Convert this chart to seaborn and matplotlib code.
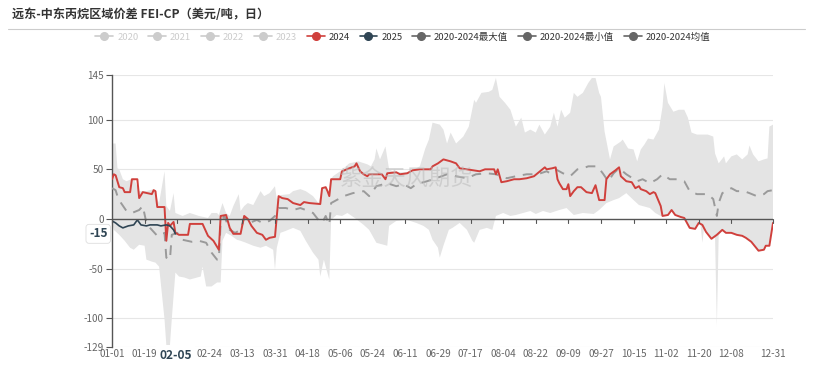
import numpy as np
import pandas as pd
import matplotlib
matplotlib.use("Agg")
import matplotlib.pyplot as plt
import seaborn as sns
from matplotlib.lines import Line2D

# ---- category axis (2024 calendar, MM-DD) ----
dates = pd.date_range("2024-01-01", "2024-12-31", freq="D")
categories = dates.strftime("%m-%d").tolist()
# 02-06 is hidden under the pointer label in the reference
xtick_labels = ["01-01", "01-19", "02-24", "03-13", "03-31", "04-18",
                "05-06", "05-24", "06-11", "06-29", "07-17", "08-04", "08-22",
                "09-09", "09-27", "10-15", "11-02", "11-20", "12-08", "12-31"]
ytick_values = [145, 100, 50, 0, -50, -100, -129]

# ---- 2024 (day of year, value) ----
day_2024 = [0, 1, 2, 4, 6, 7, 10, 11, 14, 15, 17, 22, 23, 24, 25, 29, 30, 31, 32, 34,
            35, 37, 42, 43, 50, 51, 53, 56, 59, 60, 63, 65, 67, 71, 72, 73, 75, 77, 80, 83,
            85, 87, 90, 92, 94, 97, 100, 104, 106, 109, 115, 116, 118, 119, 120, 121, 126, 127, 131, 134,
            135, 137, 139, 141, 142, 149, 151, 152, 157, 159, 163, 166, 170, 176, 177, 180, 183, 187, 190, 192,
            196, 203, 206, 211, 212, 213, 215, 218, 222, 225, 229, 233, 235, 239, 240, 243, 245, 246, 247, 249,
            251, 252, 253, 255, 257, 259, 262, 265, 267, 269, 272, 273, 275, 278, 280, 281, 284, 287, 289, 291,
            292, 295, 297, 299, 300, 303, 304, 307, 309, 311, 314, 316, 319, 322, 324, 326, 328, 331, 334, 337,
            339, 342, 345, 348, 350, 353, 357, 360, 361, 363, 365]
val_2024 = [40, 45, 44, 32, 31, 27, 27, 40, 40, 21, 27, 25, 29, 28, 12, 12, -22, -4, -7, -3,
            -14, -16, -16, -5, -5, -9, -17, -22, -31, 3, 4, -9, -15, -15, -6, 3, 0, -7, -14, -16,
            -21, -19, -18, 23, 21, 20, 16, 14, 17, 16, 15, 31, 32, 28, 23, 40, 40, 48, 51, 53,
            56, 48, 45, 43, 45, 45, 40, 46, 47, 45, 46, 49, 50, 50, 53, 56, 60, 58, 56, 51,
            50, 48, 50, 50, 45, 50, 37, 38, 40, 40, 41, 43, 46, 52, 50, 51, 52, 40, 36, 30,
            30, 35, 23, 28, 32, 32, 27, 26, 34, 19, 19, 40, 45, 49, 52, 43, 38, 37, 31, 33,
            30, 28, 25, 27, 26, 13, 3, 4, 9, 4, 2, 1, -9, -10, -4, -6, -13, -20, -16, -11,
            -14, -14, -16, -17, -19, -23, -32, -31, -27, -27, -4]

# ---- 2025 ----
day_2025 = [0, 2, 4, 6, 9, 12, 14, 16, 19, 21, 25, 27, 30, 32, 34, 35]
val_2025 = [-2, -4, -7, -9, -7, -6, -1, -6, -7, -6, -6, -7, -6, -7, -11, -15]

# ---- 2020-2024 mean ----
day_mean = [0, 2, 3, 5, 8, 11, 15, 17, 19, 21, 25, 27, 29, 30, 32, 33, 36, 39, 44, 48,
            52, 55, 58, 59, 60, 62, 65, 68, 71, 73, 76, 80, 83, 87, 90, 92, 96, 100, 104, 107,
            111, 114, 116, 118, 120, 121, 124, 128, 133, 139, 142, 146, 152, 157, 161, 165, 168, 174, 179, 185,
            190, 196, 201, 207, 212, 218, 223, 229, 235, 240, 242, 245, 249, 253, 257, 260, 263, 268, 271, 274,
            277, 280, 284, 290, 293, 297, 301, 304, 308, 312, 316, 319, 323, 329, 332, 334, 335, 337, 339, 342,
            345, 349, 352, 356, 360, 362, 365]
val_mean = [31, 29, 23, 16, 8, 6, 9, 13, -4, -9, -17, -16, -14, -39, -41, -16, -14, -21, -23, -22,
            -24, -34, -41, -41, -4, 3, -11, -14, -11, 1, -4, -1, -4, -2, 3, 11, 11, 9, 11, 9,
            6, -1, -4, 3, -6, 16, 19, 23, 26, 28, 23, 33, 36, 33, 35, 31, 35, 38, 41, 45,
            43, 41, 45, 46, 45, 41, 43, 45, 45, 48, 46, 50, 46, 43, 50, 51, 53, 53, 46, 38,
            46, 51, 45, 38, 40, 36, 40, 45, 40, 40, 38, 28, 25, 25, 20, 3, 16, 26, 28, 31,
            28, 28, 26, 23, 25, 28, 29]

# ---- 2020-2024 max ----
day_max = [0, 2, 3, 4, 6, 8, 12, 15, 19, 23, 25, 26, 29, 30, 32, 34, 35, 39, 43, 48,
           53, 55, 58, 59, 61, 63, 65, 67, 70, 71, 73, 75, 78, 80, 82, 84, 87, 90, 91, 93,
           98, 100, 104, 107, 111, 114, 116, 118, 119, 120, 121, 122, 126, 131, 136, 141, 143, 145, 146, 148,
           151, 153, 156, 163, 166, 170, 173, 175, 177, 181, 183, 185, 187, 190, 194, 197, 200, 201, 204, 208,
           210, 212, 214, 217, 220, 223, 226, 228, 231, 234, 236, 239, 242, 244, 246, 248, 250, 253, 255, 257,
           260, 263, 265, 267, 269, 270, 272, 275, 277, 281, 282, 285, 288, 290, 292, 294, 296, 299, 302, 304,
           305, 306, 307, 310, 313, 316, 318, 320, 323, 329, 332, 333, 335, 338, 339, 342, 345, 348, 351, 352,
           354, 357, 360, 362, 363, 365]
val_max = [76, 76, 51, 50, 40, 38, 41, 28, 28, 30, 20, 16, 48, 13, 8, 26, 6, 3, 6, 3,
           1, 6, 6, 4, 16, 6, 3, 13, 25, 8, 13, 16, 14, 21, 28, 23, 26, 33, 20, 24,
           25, 28, 30, 28, 23, 16, 31, 32, 28, 23, 40, 43, 48, 56, 58, 55, 53, 60, 71, 60,
           73, 50, 47, 47, 49, 53, 71, 80, 97, 95, 90, 76, 87, 76, 83, 93, 120, 117, 127, 128,
           130, 142, 123, 117, 110, 93, 102, 87, 90, 87, 95, 85, 93, 107, 93, 110, 102, 107, 127, 123,
           127, 137, 142, 142, 127, 123, 88, 60, 73, 78, 80, 71, 70, 58, 70, 75, 81, 80, 90, 113,
           137, 127, 117, 108, 110, 110, 102, 87, 85, 85, 83, 66, 56, 63, 56, 63, 65, 60, 65, 74,
           65, 58, 60, 61, 93, 95]

# ---- 2020-2024 min ----
day_min = [0, 1, 4, 7, 10, 12, 15, 18, 19, 22, 24, 26, 29, 30, 32, 33, 35, 37, 40, 43,
           47, 49, 50, 52, 55, 58, 60, 61, 63, 66, 69, 71, 74, 78, 82, 85, 89, 90, 91, 93,
           96, 100, 104, 107, 111, 114, 115, 117, 118, 120, 121, 124, 127, 130, 134, 139, 142, 146, 150, 152,
           153, 157, 163, 168, 172, 175, 177, 180, 181, 183, 186, 188, 192, 196, 199, 200, 203, 207, 210, 212,
           216, 220, 223, 227, 231, 234, 238, 242, 247, 251, 255, 260, 266, 269, 273, 277, 280, 284, 288, 291,
           293, 297, 300, 303, 304, 307, 309, 311, 314, 316, 319, 322, 324, 325, 326, 327, 328, 331, 333, 334,
           335, 337, 339, 342, 345, 348, 350, 353, 357, 360, 361, 363, 365]
val_min = [-4, -11, -16, -22, -29, -31, -26, -27, -41, -43, -44, -48, -101, -127, -127, -101, -54, -58, -59, -61,
           -59, -58, -48, -68, -68, -64, -64, -22, -14, -17, -21, -22, -24, -27, -29, -27, -31, -51, -29, -14,
           -12, -9, -12, -22, -34, -41, -58, -41, -48, -61, -1, 4, 3, 6, 1, -6, -11, -24, -26, -27,
           -7, -2, -1, -4, -7, -11, -21, -29, -39, -27, -11, -9, -4, -11, -22, -24, -11, -9, -11, 3,
           6, 3, 4, 6, 8, 5, 8, 6, 9, 11, 4, 6, 5, 9, 16, 19, 21, 26, 19, 14,
           13, 11, 6, 3, 3, 4, 9, 4, 2, 1, -9, -10, -4, -6, -24, -8, -13, -20, -18, -108,
           -17, -11, -14, -14, -16, -17, -19, -23, -32, -31, -27, -27, -4]

pointer_day = "02-05"
pointer_value = -15

# ---- colors ----
RED = "#d0403c"
NAVY = "#2f4554"
BAND = "#e4e4e4"
MEAN = "#9a9a9a"
AXIS = "#555555"
TEXT = "#666666"

sns.set_theme(style="white")
plt.rcParams["font.family"] = ["Noto Sans CJK SC", "DejaVu Sans"]

df24 = pd.DataFrame({"day": day_2024, "value": val_2024})
df25 = pd.DataFrame({"day": day_2025, "value": val_2025})
dfmean = pd.DataFrame({"day": day_mean, "value": val_mean})

fig = plt.figure(figsize=(8.13, 3.67), dpi=100)
ax = fig.add_axes([112 / 813, 1 - 347 / 367, (773 - 112) / 813, (347 - 75) / 367])

# band between max and min
band_x = np.r_[day_max, day_min[::-1]]
band_y = np.r_[val_max, val_min[::-1]]
ax.fill(band_x, band_y, color=BAND, lw=0, zorder=1)

sns.lineplot(data=dfmean, x="day", y="value", ax=ax, color=MEAN, lw=1.4,
             linestyle=(0, (5, 4)), zorder=3, estimator=None, sort=False)
sns.lineplot(data=df24, x="day", y="value", ax=ax, color=RED, lw=1.4,
             zorder=4, estimator=None, sort=False)
sns.lineplot(data=df25, x="day", y="value", ax=ax, color=NAVY, lw=1.2,
             zorder=5, estimator=None, sort=False)

ax.set_xlim(0, len(categories) - 1)
ax.set_ylim(-129, 145)
ax.set_xlabel("")
ax.set_ylabel("")

for s in ["top", "right", "bottom"]:
    ax.spines[s].set_visible(False)
ax.spines["left"].set_color(AXIS)
ax.spines["left"].set_linewidth(1)

# grid lines and zero axis
for v in ytick_values:
    if v == 0:
        ax.axhline(0, color=AXIS, lw=1, zorder=6)
    else:
        ax.axhline(v, color="#e6e6e6", lw=0.8, zorder=0)

ax.set_yticks(ytick_values)
ax.set_yticklabels([str(v) for v in ytick_values])
ax.tick_params(axis="y", length=4, width=0.8, color=AXIS, labelsize=7.2,
               labelcolor=TEXT, pad=2, left=True)

# x ticks drawn on zero line, labels at bottom
tick_days = [categories.index(l) for l in xtick_labels] + [categories.index("02-06")]
ax.set_xticks([])
for p in tick_days:
    ax.plot([p, p], [0, -4], color=AXIS, lw=0.8, zorder=6, clip_on=False)
for l in xtick_labels:
    ax.text(categories.index(l), -131.5, l, ha="center", va="top", fontsize=7.2, color=TEXT)

# axis pointer labels
pd_idx = categories.index(pointer_day)
ax.text(pd_idx, -131, pointer_day, ha="center", va="top", fontsize=8.6,
        fontweight="bold", color=NAVY, zorder=10,
        bbox=dict(boxstyle="square,pad=0.3", fc="white", ec="none"))
ax.text(-2.5, pointer_value, str(pointer_value), ha="right", va="center",
        fontsize=8.6, fontweight="bold", color=NAVY, zorder=10,
        bbox=dict(boxstyle="round,pad=0.25", fc="white", ec="#dddddd", lw=0.6))

# watermark
ax.text(162, 40, "紫金天风期货", ha="center", va="center", fontsize=16,
        color="#bbbbbb", alpha=0.55, zorder=7)

# title and rule
fig.text(12 / 813, 1 - 15 / 367, "远东-中东丙烷区域价差 FEI-CP（美元/吨，日）",
         ha="left", va="center", fontsize=8.7, fontweight="bold", color="#333333")
fig.add_artist(Line2D([8 / 813, 805 / 813], [1 - 29 / 367, 1 - 29 / 367],
                      color="#cccccc", lw=0.8))

# legend
legend_names = ["2020", "2021", "2022", "2023", "2024", "2025",
                "2020-2024最大值", "2020-2024最小值", "2020-2024均值"]
legend_colors = ["#cccccc"] * 4 + [RED, NAVY] + ["#666666"] * 3
legend_text_colors = ["#cccccc"] * 4 + ["#333333"] * 5
handles = [Line2D([0], [0], color=c, lw=1.2, marker="o", markersize=5.5,
                  markerfacecolor=c, markeredgecolor=c) for c in legend_colors]
leg = fig.legend(handles, legend_names, loc="center", ncol=9,
                 bbox_to_anchor=(403 / 813, 1 - 37 / 367), frameon=False,
                 fontsize=6.8, handlelength=1.9, handletextpad=0.4,
                 columnspacing=1.05)
for t, c in zip(leg.get_texts(), legend_text_colors):
    t.set_color(c)

fig.savefig("out.png", dpi=100)
